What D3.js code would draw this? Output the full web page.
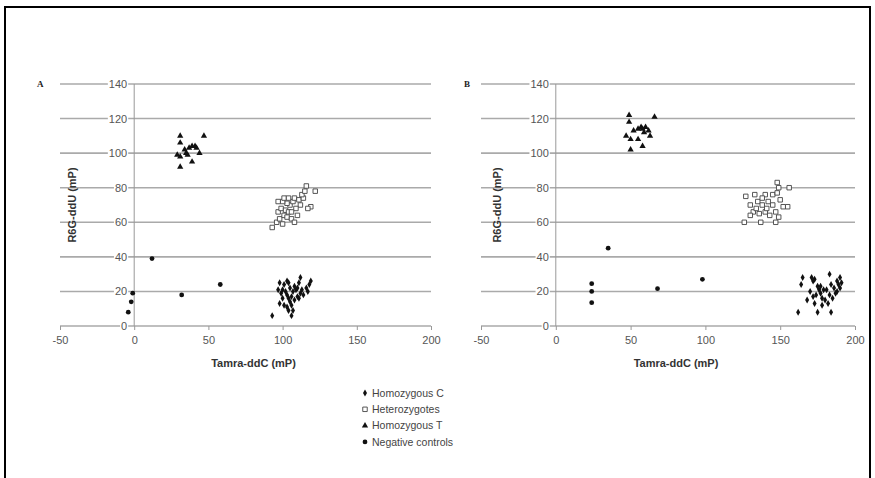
<!DOCTYPE html>
<html><head><meta charset="utf-8">
<script src="https://cdn.jsdelivr.net/npm/d3@7"></script>
<style>body{margin:0;background:#fff}svg{display:block}</style></head>
<body><svg id="c" width="875" height="478"></svg>
<script>
const xTicks=[-50,0,50,100,150,200];
const yTicks=[0,20,40,60,80,100,120,140];
const seriesNames=["Homozygous C","Heterozygotes","Homozygous T","Negative controls"];
const panelLabels=["A","B"];
const xTitle="Tamra-ddC (mP)";
const yTitle="R6G-ddU (mP)";

// Panel A
const aHomC=[[93,6],[98,25],[101,24],[103,26],[104,25],[97,21],[99,19],[100,16],[98,13],[101,12],[103,11],[104,9],[106,6],[107,9],[105,14],[106,17],[108,15],[110,17],[112,19],[114,18],[117,20],[118,24],[119,26],[112,28],[111,25],[109,21],[107,20],[105,22],[103,18],[102,20],[108,23],[110,22],[113,21],[116,22],[104,16],[100,21],[106,12],[111,16]];
const aHet=[[93,57],[96,60],[98,62],[100,59],[101,64],[103,63],[97,66],[99,68],[102,67],[104,66],[106,62],[108,60],[110,64],[105,70],[107,72],[103,71],[100,72],[97,72],[101,74],[104,74],[108,74],[111,73],[112,70],[114,74],[113,76],[115,78],[116,81],[122,78],[119,69],[117,68],[109,68],[106,66]];
const aHomT=[[31,110],[47,110],[31,106],[29,99],[31,98],[34,102],[36,99],[37,103],[39,104],[41,104],[42,103],[44,100],[39,95],[31,92],[35,100]];
const aNeg=[[12,39],[-1,19],[-2,14],[-4,8],[32,18],[58,24]];

// Panel B
const bHomC=[[162,8],[164,24],[165,28],[171,28],[173,27],[172,26],[183,30],[175,23],[177,23],[170,20],[168,15],[173,13],[175,8],[184,8],[182,13],[178,16],[180,15],[183,18],[187,19],[190,22],[191,25],[188,26],[190,28],[184,24],[181,21],[177,19],[174,18],[172,17],[179,21],[186,22],[188,20],[176,21],[185,16],[178,12],[189,24]];
const bHet=[[127,75],[133,76],[140,76],[145,76],[148,83],[149,80],[148,77],[156,80],[130,70],[135,72],[138,70],[142,72],[145,70],[150,73],[155,69],[152,69],[132,66],[136,65],[140,66],[143,64],[147,66],[149,63],[126,60],[137,60],[147,60],[134,68],[130,64],[141,68],[138,74]];
const bHomT=[[49,122],[66,121],[49,118],[52,113],[55,114],[47,110],[50,108],[55,108],[58,114],[60,115],[62,113],[59,112],[63,110],[58,104],[50,102],[57,115]];
const bNeg=[[35,45],[24,24.5],[24,20],[24,13.5],[68,21.6],[98,27]];

const svg=d3.select("#c");
svg.append("rect").attr("x",5).attr("y",7).attr("width",865).attr("height",500)
  .attr("fill","none").attr("stroke","#000").attr("stroke-width",2);

const shapes=[d3.symbolDiamond,d3.symbolSquare,d3.symbolTriangle,d3.symbolCircle];
const sizes=[14,20,17,18];

function drawMarker(g,k,x,y){
  const p=g.append("path").attr("d",d3.symbol().type(shapes[k]).size(sizes[k])())
    .attr("transform",`translate(${x},${y})`);
  if(k===1) p.attr("fill","#fff").attr("stroke","#444").attr("stroke-width",0.9);
  else p.attr("fill","#111");
}

const panels=[
  {label:panelLabels[0],xr:[60,431],yr:[326,84],lx:37,yl:72,data:[aHomC,aHet,aHomT,aNeg]},
  {label:panelLabels[1],xr:[481,855],yr:[326,84],lx:464,yl:497,data:[bHomC,bHet,bHomT,bNeg]}
];

panels.forEach(P=>{
  const x=d3.scaleLinear().domain([-50,200]).range(P.xr);
  const y=d3.scaleLinear().domain([0,140]).range(P.yr);
  const g=svg.append("g");
  g.selectAll(".grid").data(yTicks).join("line")
    .attr("x1",x(-50)).attr("x2",x(200)).attr("y1",d=>y(d)).attr("y2",d=>y(d))
    .attr("stroke","#aaa").attr("stroke-width",1.6);
  g.append("line").attr("x1",x(0)).attr("x2",x(0)).attr("y1",y(140)).attr("y2",y(0))
    .attr("stroke","#999").attr("stroke-width",1);
  const xa=d3.axisBottom(x).tickValues(xTicks).tickSize(4).tickFormat(d=>String(d));
  const xg=g.append("g").attr("transform",`translate(0,${y(0)})`).call(xa);
  xg.select(".domain").remove();
  xg.selectAll(".tick line").attr("stroke","#999");
  xg.selectAll(".tick text").attr("font-family","Liberation Sans, Arial, sans-serif")
    .attr("font-size",11).attr("fill","#555").attr("dy","1.0em");
  const ya=d3.axisLeft(y).tickValues(yTicks).tickSize(0).tickPadding(7);
  const yg=g.append("g").attr("transform",`translate(${x(0)},0)`).call(ya);
  yg.select(".domain").remove();
  yg.selectAll(".tick text").attr("font-family","Liberation Sans, Arial, sans-serif")
    .attr("font-size",11).attr("fill","#555");
  yg.selectAll(".tick").each(function(){
    const t=d3.select(this).select("text");
    const bb=t.node().getBBox();
    d3.select(this).insert("rect","text").attr("x",bb.x-1).attr("y",bb.y+2)
      .attr("width",bb.width+2).attr("height",bb.height-4).attr("fill","#fff");
  });
  g.append("text").attr("x",(x(-50)+x(200))/2+8).attr("y",367).attr("text-anchor","middle")
    .attr("font-family","Liberation Sans, Arial, sans-serif").attr("font-weight","bold")
    .attr("font-size",11).attr("fill","#333").text(xTitle);
  g.append("text").attr("transform",`translate(${P.yl},${(y(0)+y(140))/2}) rotate(-90)`)
    .attr("text-anchor","middle").attr("dy","0.35em")
    .attr("font-family","Liberation Sans, Arial, sans-serif").attr("font-weight","bold")
    .attr("font-size",11).attr("fill","#333").text(yTitle);
  g.append("text").attr("x",P.lx).attr("y",y(140)+3)
    .attr("font-family","Liberation Serif, Times New Roman, serif").attr("font-weight","bold")
    .attr("font-size",9).attr("fill","#222").text(P.label);
  P.data.forEach((arr,k)=>{
    arr.forEach(d=>drawMarker(g,k,x(d[0]),y(d[1])));
  });
});

const lg=svg.append("g");
seriesNames.forEach((n,i)=>{
  const yy=393+i*16.3;
  drawMarker(lg,i,365,yy);
  lg.append("text").attr("x",372).attr("y",yy).attr("dy","0.35em")
    .attr("font-family","Liberation Sans, Arial, sans-serif").attr("font-size",10.5)
    .attr("fill","#444").text(n);
});
</script></body></html>
